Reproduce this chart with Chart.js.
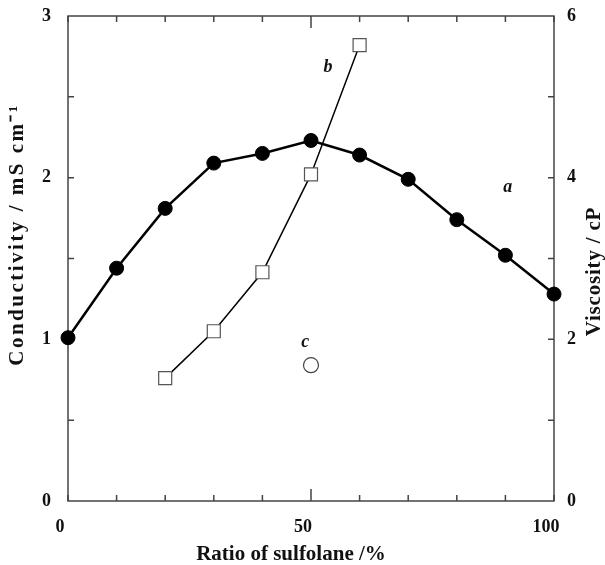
<!DOCTYPE html>
<html>
<head>
<meta charset="utf-8">
<script src="https://cdn.jsdelivr.net/npm/chart.js@4"></script>
<style>
  html, body { margin: 0; padding: 0; background: #fff; }
  #wrap { width: 605px; height: 565px; }
</style>
</head>
<body>
<div id="wrap"><canvas id="chart"></canvas></div>
<script>
// values
const ratio = [0, 10, 20, 30, 40, 50, 60, 70, 80, 90, 100];
const conductivity = [1.01, 1.44, 1.81, 2.09, 2.15, 2.23, 2.14, 1.99, 1.74, 1.52, 1.28];

const viscosityRatio = [20, 30, 40, 50, 60];
const viscosity = [1.52, 2.10, 2.83, 4.04, 5.64];

const singleRatio = [50];
const singleConductivity = [0.84];

const xTicks = [0, 50, 100];
const leftTicks = [0, 1, 2, 3];
const rightTicks = [0, 2, 4, 6];

const xTitle = 'Ratio of sulfolane /%';
const leftTitle = 'Conductivity / mS cm\u207B\u00B9';
const rightTitle = 'Viscosity / cP';

// curve letters, placed in data units
const curveNames = ['a', 'b', 'c'];
const curveNameRatio = [90.5, 53.5, 48.8];
const curveNameValue = [1.94, 5.36, 0.98];
const curveNameAxis = ['y', 'y1', 'y'];

const serif = '"Liberation Serif", "Times New Roman", serif';

const toPoints = (xs, ys) => xs.map((x, i) => ({ x: x, y: ys[i] }));

// side axes: fixed width, and no extra top/bottom room for the end labels
const fitSide = width => s => {
    s.width = width;
    s.paddingTop = 0;
    s.paddingBottom = 0;
};

const frame = {
    id: 'frame',
    beforeDatasetsDraw(chart) {
        const { ctx, chartArea: a, scales } = chart;
        ctx.save();
        ctx.strokeStyle = '#444';
        ctx.lineWidth = 1.5;
        ctx.strokeRect(a.left, a.top, a.right - a.left, a.bottom - a.top);

        ctx.beginPath();
        for (let v = 0; v <= 100; v += 10) {
            const px = scales.x.getPixelForValue(v);
            const len = v === 50 ? 12 : 6;
            ctx.moveTo(px, a.bottom); ctx.lineTo(px, a.bottom - len);
            ctx.moveTo(px, a.top); ctx.lineTo(px, a.top + len);
        }
        for (let v = 0.5; v < 3; v += 0.5) {
            const py = scales.y.getPixelForValue(v);
            ctx.moveTo(a.left, py); ctx.lineTo(a.left + 6, py);
        }
        for (let v = 1; v < 6; v += 1) {
            const py = scales.y1.getPixelForValue(v);
            ctx.moveTo(a.right, py); ctx.lineTo(a.right - 6, py);
        }
        ctx.stroke();
        ctx.restore();
    },
    afterDraw(chart) {
        const { ctx, chartArea: a, scales } = chart;
        ctx.save();
        ctx.fillStyle = '#111';
        ctx.textAlign = 'center';
        ctx.textBaseline = 'middle';
        ctx.font = 'bold 21px ' + serif;
        ctx.fillText(xTitle, (a.left + a.right) / 2 - 20, 555);

        // the original stretches the side titles a little
        ctx.save();
        ctx.letterSpacing = '2.5px';
        ctx.translate(18, (a.top + a.bottom) / 2 - 24);
        ctx.rotate(-Math.PI / 2);
        ctx.fillText(leftTitle, 0, 0);
        ctx.restore();

        ctx.save();
        ctx.letterSpacing = '0.8px';
        ctx.translate(595, (a.top + a.bottom) / 2 + 13);
        ctx.rotate(-Math.PI / 2);
        ctx.fillText(rightTitle, 0, 0);
        ctx.restore();

        ctx.font = 'italic bold 18px ' + serif;
        curveNames.forEach((name, i) => {
            const px = scales.x.getPixelForValue(curveNameRatio[i]);
            const py = scales[curveNameAxis[i]].getPixelForValue(curveNameValue[i]);
            ctx.fillText(name, px, py);
        });
        ctx.restore();
    }
};

new Chart(document.getElementById('chart'), {
    type: 'scatter',
    data: {
        datasets: [
            {
                label: 'a',
                data: toPoints(ratio, conductivity),
                yAxisID: 'y',
                showLine: true,
                borderColor: '#000',
                borderWidth: 2.5,
                pointRadius: 7,
                pointBackgroundColor: '#000',
                pointBorderColor: '#000',
                pointBorderWidth: 1,
                clip: false
            },
            {
                label: 'b',
                data: toPoints(viscosityRatio, viscosity),
                yAxisID: 'y1',
                showLine: true,
                borderColor: '#000',
                borderWidth: 1.5,
                pointStyle: 'rect',
                pointRadius: 9.2,
                pointBackgroundColor: '#fff',
                pointBorderColor: '#555',
                pointBorderWidth: 1.2,
                clip: false
            },
            {
                label: 'c',
                data: toPoints(singleRatio, singleConductivity),
                yAxisID: 'y',
                showLine: false,
                pointRadius: 7.5,
                pointBackgroundColor: '#fff',
                pointBorderColor: '#444',
                pointBorderWidth: 1.2,
                clip: false
            }
        ]
    },
    options: {
        responsive: true,
        maintainAspectRatio: false,
        animation: false,
        layout: { padding: { top: 16, left: 0, right: 0, bottom: 0 } },
        plugins: {
            legend: { display: false },
            tooltip: { enabled: false }
        },
        scales: {
            x: {
                type: 'linear',
                min: 0,
                max: 100,
                afterBuildTicks: s => { s.ticks = xTicks.map(v => ({ value: v })); },
                afterFit: s => { s.height = 64; },
                grid: { display: false, drawTicks: false },
                border: { display: false },
                ticks: {
                    color: '#111',
                    padding: 16,
                    labelOffset: -8,
                    maxRotation: 0,
                    font: { family: serif, size: 18, weight: 'bold' }
                }
            },
            y: {
                position: 'left',
                min: 0,
                max: 3,
                afterBuildTicks: s => { s.ticks = leftTicks.map(v => ({ value: v })); },
                afterFit: fitSide(68),
                grid: { display: false, drawTicks: false },
                border: { display: false },
                ticks: {
                    color: '#111',
                    padding: 17,
                    font: { family: serif, size: 18, weight: 'bold' }
                }
            },
            y1: {
                position: 'right',
                min: 0,
                max: 6,
                afterBuildTicks: s => { s.ticks = rightTicks.map(v => ({ value: v })); },
                afterFit: fitSide(51),
                grid: { display: false, drawTicks: false },
                border: { display: false },
                ticks: {
                    color: '#111',
                    padding: 13,
                    font: { family: serif, size: 18, weight: 'bold' }
                }
            }
        }
    },
    plugins: [frame]
});
</script>
</body>
</html>
